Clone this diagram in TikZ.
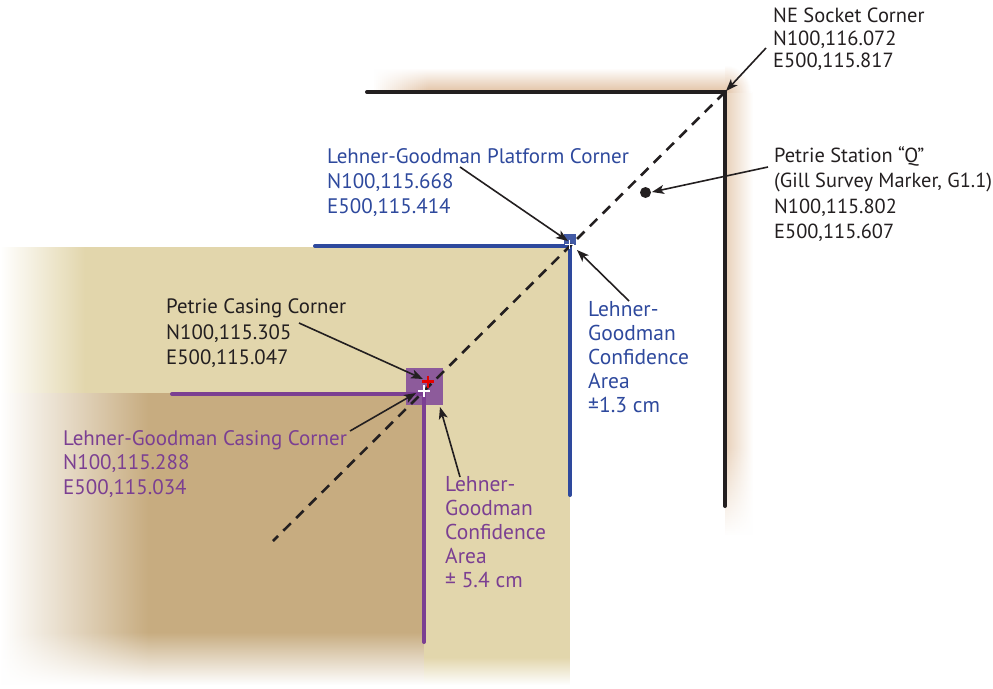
\documentclass[tikz,border=0pt]{standalone}
\usepackage{fontspec}
\setmainfont{PT Sans}
\usetikzlibrary{arrows.meta}
\definecolor{beige}{RGB}{226,214,172}
\definecolor{tan2}{RGB}{199,172,128}
\definecolor{glow}{RGB}{226,194,164}
\definecolor{glowside}{RGB}{232,208,184}
\definecolor{lgblue}{RGB}{46,73,157}
\definecolor{lgpurple}{RGB}{123,63,146}
\definecolor{squarep}{RGB}{141,91,155}
\definecolor{squareb}{RGB}{66,90,165}
\definecolor{ink}{RGB}{35,31,32}
\tikzset{
  label/.style={anchor=north west,inner sep=0pt,align=left,font=\fontsize{21.2}{24}\selectfont,text=#1},
  wall/.style={line width=#1,line cap=round,line join=miter},
  lead/.style={draw=ink,line width=1.6pt,-{Stealth[length=12pt,width=9pt,inset=3pt]}},
  crossmark/.style={line width=#1}
}
\begin{document}
\begin{tikzpicture}[x=1pt,y=-1pt]
\useasboundingbox (0,0) rectangle (993,688);
% ground tints
\fill[left color=white,right color=beige] (0,247) rectangle (85,393);
\fill[beige] (85,247) rectangle (570,393);
\fill[beige] (424,393) rectangle (570,688);
\fill[left color=white,right color=tan2] (0,393) rectangle (148,688);
\fill[tan2] (148,393) rectangle (424,688);
% bottom fade-out of the tints
\foreach \i in {0,...,53}
  \fill[white,opacity=\i/53] (-1,632+\i) rectangle (424,633+\i);
\foreach \i in {0,...,28}
  \fill[white,opacity=\i/28] (424,657+\i) rectangle (571,658+\i);
\fill[white] (-2,685) rectangle (572,692);
% socket glow
\fill[top color=white,bottom color=glow] (372,68) rectangle (725,92);
\fill[left color=glowside,right color=white] (725,92) rectangle (753,535);
\foreach \r in {27,26,...,1} {
  \pgfmathtruncatemacro{\mixv}{100-100*\r/27}
  \begin{scope}
    \clip (725,64) rectangle (753,92);
    \fill[glow!\mixv!white] (725,92) circle (\r);
  \end{scope}
}
\foreach \i in {0,...,28}
  \fill[white,opacity=1-\i/28] (372+2*\i,66) rectangle (374+2*\i,91);
\foreach \i in {0,...,45}
  \fill[white,opacity=\i/45] (725,445+2*\i) rectangle (755,447+2*\i);
% confidence squares
\fill[squarep] (406,368) rectangle (443,405);
\fill[squareb] (563.5,234) rectangle (576,245);
% walls
\coordinate (neA) at (367,92);
\coordinate (neC) at (725,92);
\coordinate (neB) at (725,506);
\coordinate (plA) at (315,246);
\coordinate (plC) at (570,246);
\coordinate (plB) at (570,495);
\coordinate (caA) at (172,394);
\coordinate (caC) at (424,394);
\coordinate (caB) at (424,642);
\coordinate (dgA) at (273,541);
\draw[wall=4pt,ink] (neA) -- (neC) -- (neB);
\draw[wall=4pt,lgblue] (plA) -- (plC) -- (plB);
\draw[wall=4pt,lgpurple] (caA) -- (caC) -- (caB);
\draw[ink,line width=2.6pt,dash pattern=on 10.5pt off 7.5pt] (neC) -- (dgA);
% crosses
\draw[crossmark=2.8pt,red!90!black] (422,381.5) -- (434,381.5) (428,375.5) -- (428,387.5);
\draw[crossmark=2.8pt,white] (418,391) -- (430,391) (424,385) -- (424,397);
\draw[crossmark=1.3pt,white] (564.5,244.3) -- (574,244.3) (569.3,239.5) -- (569.3,249);
% station marker
\node[circle,fill=ink,inner sep=0pt,minimum size=11pt] (station) at (645.5,192.5) {};
% labels
\node[label=ink,font=\fontsize{20.5}{22.5}\selectfont] (lne) at (773,8) {NE Socket Corner\\N100,116.072\\E500,115.817};
\node[label=ink,font=\fontsize{20.4}{25.3}\selectfont] (lq) at (774,146.5) {Petrie Station “Q”\\(Gill Survey Marker, G1.1)\\N100,115.802\\E500,115.607};
\node[label=lgblue,font=\fontsize{21}{25}\selectfont] (lpl) at (327,148) {Lehner-Goodman Platform Corner\\N100,115.668\\E500,115.414};
\node[label=lgblue,font=\fontsize{21.5}{24}\selectfont] (lpc) at (588,301.5) {Lehner-\\Goodman\\Confidence\\Area\\±1.3 cm};
\node[label=ink,font=\fontsize{20.8}{25.5}\selectfont] (lca) at (166,298.5) {Petrie Casing Corner\\N100,115.305\\E500,115.047};
\node[label=lgpurple,font=\fontsize{21}{24.5}\selectfont] (lcl) at (63,430) {Lehner-Goodman Casing Corner\\N100,115.288\\E500,115.034};
\node[label=lgpurple,font=\fontsize{21.5}{24}\selectfont] (lcc) at (445,476.5) {Lehner-\\Goodman\\Confidence\\Area\\± 5.4 cm};
% leaders
\coordinate (a1s) at (766,48); \coordinate (a1e) at (726,91);
\coordinate (a2s) at (768,167); \coordinate (a2e) at (652,192);
\coordinate (a3s) at (460,167); \coordinate (a3e) at (568,241);
\coordinate (a4s) at (629,301); \coordinate (a4e) at (577,250);
\coordinate (a5s) at (299,323); \coordinate (a5e) at (423,379);
\coordinate (a6s) at (350,431); \coordinate (a6e) at (416,393);
\coordinate (a7s) at (460,477); \coordinate (a7e) at (440,407);
\draw[lead] (a1s) -- (a1e);
\draw[lead] (a2s) -- (a2e);
\draw[lead] (a3s) -- (a3e);
\draw[lead] (a4s) -- (a4e);
\draw[lead] (a5s) -- (a5e);
\draw[lead] (a6s) -- (a6e);
\draw[lead] (a7s) -- (a7e);
\end{tikzpicture}
\end{document}
